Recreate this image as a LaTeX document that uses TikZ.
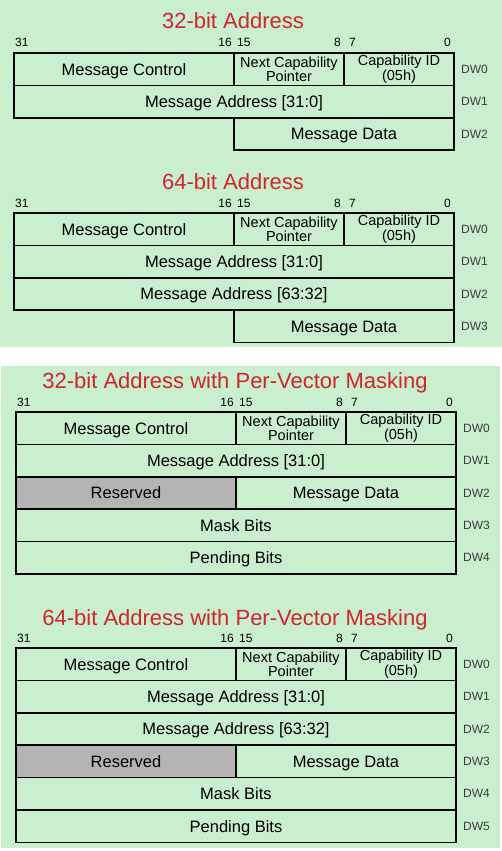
\documentclass[tikz,border=0pt]{standalone}
\usepackage{fontspec}
\setmainfont{Liberation Sans}
\usetikzlibrary{positioning}
\definecolor{msibg}{RGB}{201, 239, 206}
\definecolor{msired}{RGB}{210, 36, 46}
\definecolor{msigray}{RGB}{180, 180, 180}
\definecolor{msidw}{RGB}{60, 60, 60}

\begin{document}
\begin{tikzpicture}[x=1pt, y=-1pt,
                    field/.style={draw, line width=1.6pt, outer sep=0pt, inner sep=0pt, minimum height=32.4pt, align=center, font=\fontsize{16.5}{18}\selectfont},
                    half/.style={field, minimum width=220pt, text height=15.3pt, text depth=3.5pt},
                    quarter/.style={field, minimum width=110pt, font=\fontsize{14.5}{13}\selectfont},
                    full/.style={field, minimum width=440pt, text height=15.3pt, text depth=3.5pt},
                    reserved/.style={half, fill=msigray},
                    title/.style={anchor=base, text=msired, font=\fontsize{22}{24}\selectfont},
                    bitnum/.style={inner sep=0pt, font=\fontsize{12}{14}\selectfont},
                    dw/.style={inner sep=0pt, text=msidw, font=\fontsize{12}{14}\selectfont}
                ]

                \useasboundingbox (0,0) rectangle (502,851);
                \fill[white] (0,0) rectangle (502,851);
                \fill[msibg] (0,0) rectangle (502,347);
                \fill[msibg] (1,366) rectangle (500,848);

                % --- 32-bit Address ---
                \node[title] (t1) at (233,29) {32-bit Address};
                \node[half, anchor=north west] (mc1) at (14,53) {Message Control};
                \node[quarter, right=0pt of mc1] (ncp1) {Next Capability \\ Pointer};
                \node[quarter, right=0pt of ncp1] (cid1) {Capability ID \\ (05h)};
                \node[full, below right=0pt and 0pt of mc1.south west] (ma1) {Message Address [31:0]};
                \node[half, below right=0pt and 0pt of ma1.south] (md1) {Message Data};

                \node[dw, right=7pt of cid1] (dw10) {DW0};
                \node[dw, right=7pt of ma1] (dw11) {DW1};
                \node[dw, right=7pt of md1] (dw12) {DW2};

                % --- 64-bit Address ---
                \node[title] (t2) at (233,189) {64-bit Address};
                \node[half, anchor=north west] (mc2) at (14,213) {Message Control};
                \node[quarter, right=0pt of mc2] (ncp2) {Next Capability \\ Pointer};
                \node[quarter, right=0pt of ncp2] (cid2) {Capability ID \\ (05h)};
                \node[full, below right=0pt and 0pt of mc2.south west] (ma2) {Message Address [31:0]};
                \node[full, below right=0pt and 0pt of ma2.south west] (mb2) {Message Address [63:32]};
                \node[half, below right=0pt and 0pt of mb2.south] (md2) {Message Data};

                \node[dw, right=7pt of cid2] (dw20) {DW0};
                \node[dw, right=7pt of ma2] (dw21) {DW1};
                \node[dw, right=7pt of mb2] (dw22) {DW2};
                \node[dw, right=7pt of md2] (dw23) {DW3};

                % --- 32-bit Address with Per-Vector Masking ---
                \node[title] (t3) at (235,388) {32-bit Address with Per-Vector Masking};
                \node[half, anchor=north west] (mc3) at (16,412) {Message Control};
                \node[quarter, right=0pt of mc3] (ncp3) {Next Capability \\ Pointer};
                \node[quarter, right=0pt of ncp3] (cid3) {Capability ID \\ (05h)};
                \node[full, below right=0pt and 0pt of mc3.south west] (ma3) {Message Address [31:0]};
                \node[reserved, below right=0pt and 0pt of ma3.south west] (rs3) {Reserved};
                \node[half, right=0pt of rs3] (md3) {Message Data};
                \node[full, below right=0pt and 0pt of rs3.south west] (mk3) {Mask Bits};
                \node[full, below right=0pt and 0pt of mk3.south west] (pb3) {Pending Bits};

                \node[dw, right=7pt of cid3] (dw30) {DW0};
                \node[dw, right=7pt of ma3] (dw31) {DW1};
                \node[dw, right=7pt of md3] (dw32) {DW2};
                \node[dw, right=7pt of mk3] (dw33) {DW3};
                \node[dw, right=7pt of pb3] (dw34) {DW4};

                % --- 64-bit Address with Per-Vector Masking ---
                \node[title] (t4) at (235,625) {64-bit Address with Per-Vector Masking};
                \node[half, anchor=north west] (mc4) at (16,648) {Message Control};
                \node[quarter, right=0pt of mc4] (ncp4) {Next Capability \\ Pointer};
                \node[quarter, right=0pt of ncp4] (cid4) {Capability ID \\ (05h)};
                \node[full, below right=0pt and 0pt of mc4.south west] (ma4) {Message Address [31:0]};
                \node[full, below right=0pt and 0pt of ma4.south west] (mb4) {Message Address [63:32]};
                \node[reserved, below right=0pt and 0pt of mb4.south west] (rs4) {Reserved};
                \node[half, right=0pt of rs4] (md4) {Message Data};
                \node[full, below right=0pt and 0pt of rs4.south west] (mk4) {Mask Bits};
                \node[full, below right=0pt and 0pt of mk4.south west] (pb4) {Pending Bits};

                \node[dw, right=7pt of cid4] (dw40) {DW0};
                \node[dw, right=7pt of ma4] (dw41) {DW1};
                \node[dw, right=7pt of mb4] (dw42) {DW2};
                \node[dw, right=7pt of md4] (dw43) {DW3};
                \node[dw, right=7pt of mk4] (dw44) {DW4};
                \node[dw, right=7pt of pb4] (dw45) {DW5};

                % --- bit numbers above each DW0 ---
                \foreach \p in {1,2,3,4} {
                    \node[bitnum, anchor=base west] (b31\p) at ([xshift=1pt, yshift=6pt]mc\p.north west) {31};
                    \node[bitnum, anchor=base east] (b16\p) at ([xshift=-2pt, yshift=6pt]mc\p.north east) {16};
                    \node[bitnum, anchor=base west] (b15\p) at ([xshift=3pt, yshift=6pt]ncp\p.north west) {15};
                    \node[bitnum, anchor=base east] (b8\p) at ([xshift=-3pt, yshift=6pt]ncp\p.north east) {8};
                    \node[bitnum, anchor=base west] (b7\p) at ([xshift=5pt, yshift=6pt]cid\p.north west) {7};
                    \node[bitnum, anchor=base east] (b0\p) at ([xshift=-3pt, yshift=6pt]cid\p.north east) {0};
                }

                \end{tikzpicture}
\end{document}
